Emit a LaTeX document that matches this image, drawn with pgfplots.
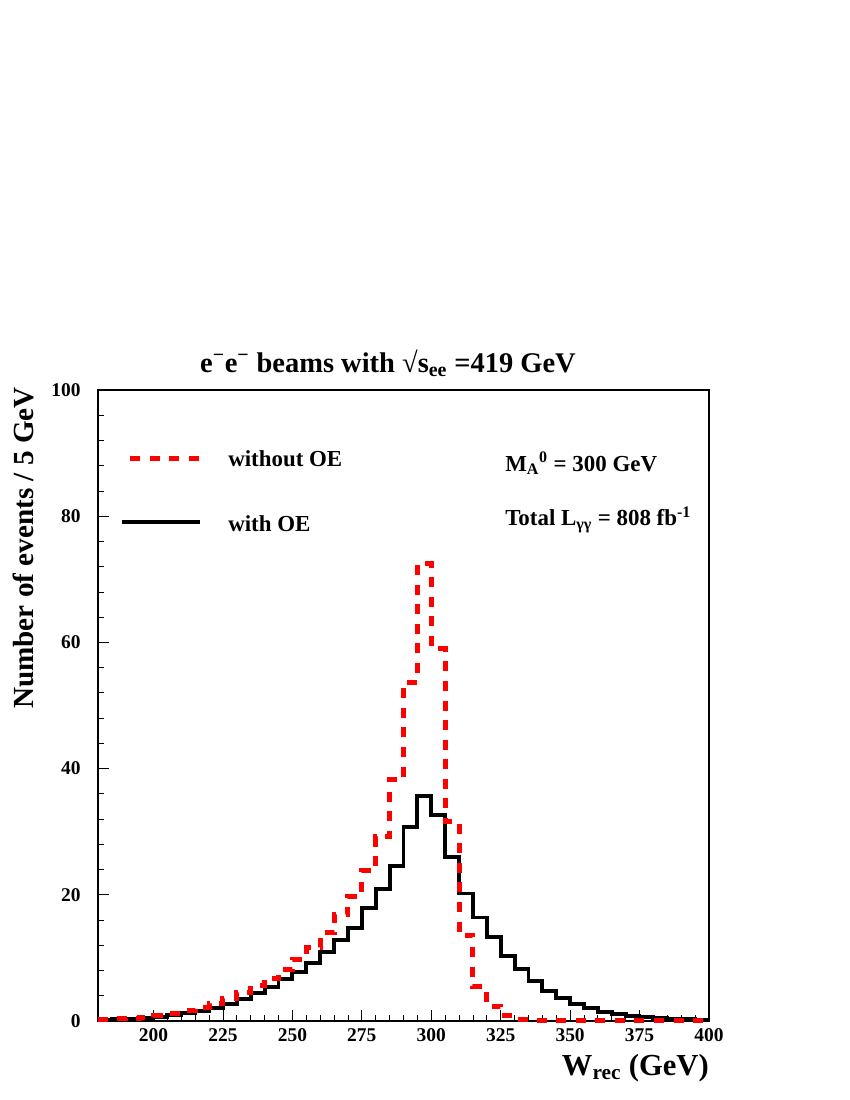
\documentclass[border=0pt]{standalone}
\usepackage{fontspec}
\setmainfont{Liberation Serif}
\usepackage{pgfplots}
\pgfplotsset{compat=1.18}
\usepackage{pgfplotstable}
\pgfplotstableread{
x y
180 0.2
185 0.3
190 0.4
195 0.5
200 0.7
205 0.9
210 1.2
215 1.6
220 2.1
225 2.7
230 3.5
235 4.4
240 5.4
245 6.7
250 7.8
255 9.2
260 11.0
265 12.8
270 14.8
275 17.9
280 20.9
285 24.6
290 30.8
295 35.6
300 32.6
305 26.0
310 20.2
315 16.4
320 13.3
325 10.3
330 8.2
335 6.4
340 4.8
345 3.6
350 2.7
355 2.0
360 1.4
365 1.05
370 0.8
375 0.6
380 0.45
385 0.35
390 0.25
395 0.2
400 0.2
}\withOE
\pgfplotstableread{
x y
180 0.25
185 0.35
190 0.45
195 0.55
200 0.8
205 1.2
210 1.6
215 2.2
220 2.8
225 3.6
230 4.5
235 5.6
240 6.8
245 8.2
250 9.8
255 11.6
260 14.0
265 16.8
270 19.7
275 23.8
280 29.2
285 38.2
290 53.7
295 72.5
300 59.0
305 31.6
310 13.6
315 5.4
320 2.3
325 0.9
330 0.3
335 0.15
340 0.1
345 0.1
350 0.1
355 0.1
360 0.1
365 0.1
370 0.1
375 0.1
380 0.1
385 0.1
390 0.1
395 0.1
400 0.1
}\withoutOE
\begin{document}
\begin{tikzpicture}
\path[use as bounding box] (0,0) rectangle (612pt,792pt);
\begin{axis}[
  at={(70.56pt,56.88pt)}, anchor=south west,
  scale only axis, width=439.9pt, height=454.3pt,
  xmin=180, xmax=400, ymin=0, ymax=100,
  xtick={200,225,...,400}, ytick={0,20,...,100},
  minor x tick num=4, minor y tick num=4,
  tick pos=left, tick align=inside,
  major tick length=8pt, minor tick length=4pt,
  tick style={line width=0.6pt, black},
  axis line style={line width=1.8pt},
  /pgf/number format/assume math mode=true,
  tick label style={font=\bfseries\fontsize{14}{14}\selectfont},
  xticklabel style={yshift=-2pt},
  yticklabel style={xshift=-9pt},
  clip=false,
]
\addplot[const plot, black, line width=2.8pt, line join=miter] table {\withOE};
\addplot[const plot, red, line width=3.6pt, dash pattern=on 7.2pt off 6.9pt] table {\withoutOE};
% legend
\draw[red, line width=3.6pt, dash pattern=on 7.2pt off 6.9pt] (rel axis cs:0.0524,0.8922) -- (rel axis cs:0.1669,0.8922);
\draw[black, line width=2.8pt] (rel axis cs:0.0393,0.7908) -- (rel axis cs:0.1669,0.7908);
\node[anchor=base west, inner sep=0pt, font=\bfseries\fontsize{16.5}{16.5}\selectfont] at (rel axis cs:0.2128,0.8780) {without OE};
\node[anchor=base west, inner sep=0pt, font=\bfseries\fontsize{16.5}{16.5}\selectfont] at (rel axis cs:0.2128,0.7765) {with OE};
\node[anchor=base west, inner sep=0pt, font=\bfseries\fontsize{16.5}{16.5}\selectfont] at (rel axis cs:0.6661,0.8716) {M\textsubscript{A}\textsuperscript{0} = 300 GeV};
\node[anchor=base west, inner sep=0pt, font=\bfseries\fontsize{16.5}{16.5}\selectfont] at (rel axis cs:0.6661,0.7845) {Total L\textsubscript{γγ} = 808 fb\textsuperscript{-1}};
% title and labels
\node[anchor=base, inner sep=0pt, font=\bfseries\fontsize{20.5}{20.5}\selectfont] at (rel axis cs:0.4746,1.0285) {e\textsuperscript{−}e\textsuperscript{−} beams with √s\textsubscript{ee} =419 GeV};
\node[rotate=90, inner sep=0pt, font=\bfseries\fontsize{21}{21}\selectfont] at (rel axis cs:-0.1227,0.7496) {Number of events / 5 GeV};
\node[anchor=base east, inner sep=0pt, font=\bfseries\fontsize{22}{22}\selectfont] at (rel axis cs:1.0,-0.0856) {W\textsubscript{rec} (GeV)};
\end{axis}
\end{tikzpicture}
\end{document}
